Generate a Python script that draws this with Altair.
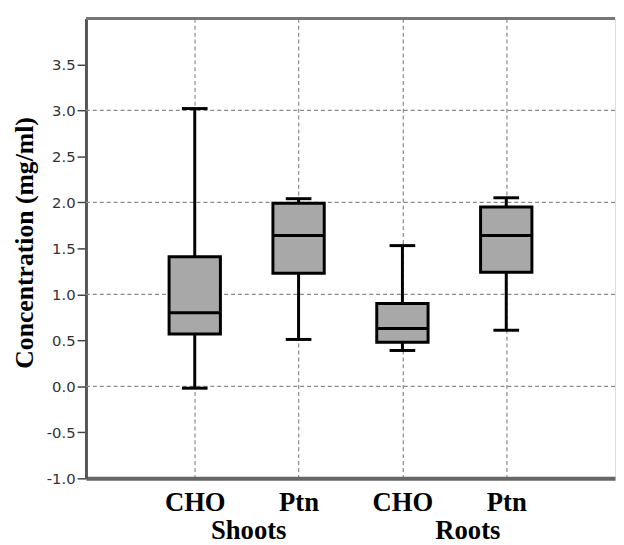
import altair as alt
import pandas as pd

# ---- data ----
positions = [1, 2, 3, 4]
labels = ["CHO", "Ptn", "CHO", "Ptn"]
groups = ["Shoots", "Shoots", "Roots", "Roots"]
whisker_low = [-0.02, 0.51, 0.39, 0.61]
q1 = [0.57, 1.23, 0.48, 1.24]
median = [0.80, 1.64, 0.63, 1.64]
q3 = [1.41, 1.99, 0.90, 1.95]
whisker_high = [3.02, 2.04, 1.53, 2.05]

group_names = ["Shoots", "Roots"]
group_pos = [1.52, 3.63]

y_ticks = [-1.0, -0.5, 0.0, 0.5, 1.0, 1.5, 2.0, 2.5, 3.0, 3.5]
y_grid = [0, 1, 2, 3]

df = pd.DataFrame({
    "pos": positions, "label": labels, "group": groups,
    "low": whisker_low, "q1": q1, "median": median, "q3": q3, "high": whisker_high,
})
grid_df = pd.DataFrame({"g": y_grid})
grp_df = pd.DataFrame({"name": group_names, "gpos": group_pos})

W, H = 536, 466
label_expr = "[" + ",".join(f"'{l}'" for l in labels) + "][datum.value - 1]"
y_label_expr = "(datum.value < 0 ? '-' : '') + format(abs(datum.value), '.1f')"

xscale = alt.Scale(domain=[0, 5], nice=False, zero=False)
yscale = alt.Scale(domain=[-1, 4], nice=False, zero=False)

x_axis = alt.Axis(
    values=positions, labelExpr=label_expr, title=None,
    grid=True, gridDash=[4, 3], gridColor="#8a8a8a", gridWidth=1.2,
    ticks=False, domainColor="#666666", domainWidth=4,
    labelFont="Liberation Serif", labelFontWeight="bold", labelFontSize=27,
    labelColor="#000000", labelPadding=12, labelAngle=0,
)
y_axis = alt.Axis(
    values=y_ticks, labelExpr=y_label_expr, grid=False,
    title="Concentration (mg/ml)", titleFont="Liberation Serif",
    titleFontWeight="bold", titleFontSize=26, titleColor="#000000",
    titleAngle=270, titleAlign="center", titleBaseline="alphabetic",
    titleX=-54, titleY=227,
    tickSize=9, tickColor="#444444", tickWidth=1.5,
    domainColor="#555555", domainWidth=3,
    labelFont="DejaVu Sans", labelFontSize=15, labelColor="#333333",
    labelPadding=2,
)

gridlines = alt.Chart(grid_df).mark_rule(
    color="#8a8a8a", strokeDash=[4, 3], strokeWidth=1.2
).encode(y=alt.Y("g:Q", scale=yscale, axis=y_axis))

lower_whisker = alt.Chart(df).mark_rule(color="#000000", strokeWidth=3).encode(
    x=alt.X("pos:Q", scale=xscale, axis=x_axis),
    y=alt.Y("low:Q", scale=yscale, axis=y_axis), y2="q1:Q"
)
upper_whisker = alt.Chart(df).mark_rule(color="#000000", strokeWidth=3).encode(
    x=alt.X("pos:Q", scale=xscale, axis=x_axis),
    y=alt.Y("q3:Q", scale=yscale, axis=y_axis), y2="high:Q"
)
boxes = alt.Chart(df).mark_bar(
    size=52, fill="#a8a8a8", stroke="#000000", strokeWidth=3
).encode(
    x=alt.X("pos:Q", scale=xscale, axis=x_axis),
    y=alt.Y("q1:Q", scale=yscale, axis=y_axis), y2="q3:Q"
)
medians = alt.Chart(df).mark_tick(
    orient="horizontal", size=52, thickness=3, color="#000000", opacity=1
).encode(
    x=alt.X("pos:Q", scale=xscale, axis=x_axis),
    y=alt.Y("median:Q", scale=yscale, axis=y_axis)
)
caps_low = alt.Chart(df).mark_tick(
    orient="horizontal", size=26, thickness=3, color="#000000", opacity=1
).encode(
    x=alt.X("pos:Q", scale=xscale, axis=x_axis),
    y=alt.Y("low:Q", scale=yscale, axis=y_axis)
)
caps_high = alt.Chart(df).mark_tick(
    orient="horizontal", size=26, thickness=3, color="#000000", opacity=1
).encode(
    x=alt.X("pos:Q", scale=xscale, axis=x_axis),
    y=alt.Y("high:Q", scale=yscale, axis=y_axis)
)

top_border = alt.Chart(grid_df).mark_rule(color="#777777", strokeWidth=3).encode(
    y=alt.value(0), x=alt.value(0), x2=alt.value(W)
)

group_text = alt.Chart(grp_df).mark_text(
    font="Liberation Serif", fontWeight="bold", fontSize=27, color="#000000",
    baseline="alphabetic", align="center",
).encode(
    x=alt.X("gpos:Q", scale=xscale, axis=x_axis), y=alt.value(527), text="name:N"
)

chart = alt.layer(
    gridlines, lower_whisker, upper_whisker, boxes, medians, caps_low, caps_high,
    top_border, group_text,
).properties(
    width=W, height=H,
    autosize=alt.AutoSizeParams(type="none"),
    padding={"left": 79, "top": 7, "right": 1, "bottom": 64},
).configure_view(
    stroke="#c4c4c4", strokeWidth=1
).configure(background="#ffffff")

chart.save("out.html", embed_options={"renderer": "svg", "actions": False})
